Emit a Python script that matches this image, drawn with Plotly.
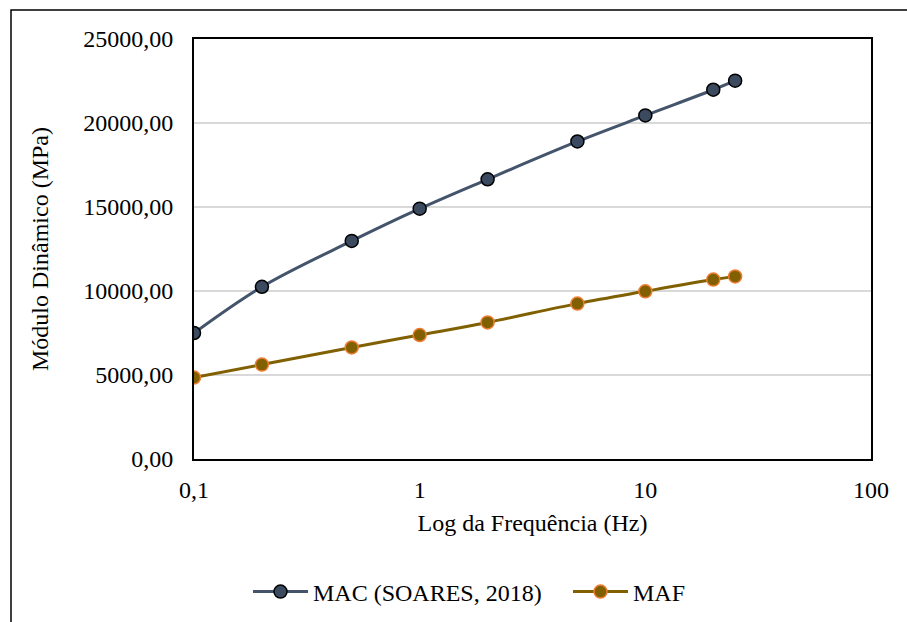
import plotly.graph_objects as go

# Frequências de ensaio (Hz)
freq = [0.1, 0.2, 0.5, 1, 2, 5, 10, 20, 25]
# Módulo dinâmico (MPa)
mac_soares = [7500, 10250, 12980, 14900, 16650, 18900, 20450, 21980, 22520]
maf = [4850, 5620, 6640, 7380, 8130, 9250, 9980, 10680, 10870]

y_ticks = [0, 5000, 10000, 15000, 20000, 25000]
y_tick_text = ["0,00", "5000,00", "10000,00", "15000,00", "20000,00", "25000,00"]
x_ticks = [0.1, 1, 10, 100]
x_tick_text = ["0,1", "1", "10", "100"]

FONT = "Liberation Serif"
FS = 24

fig = go.Figure()
fig.add_trace(go.Scatter(
    x=freq, y=mac_soares, name="MAC (SOARES, 2018)", legend="legend",
    mode="lines+markers", line=dict(color="#44546A", width=3, shape="spline"),
    marker=dict(size=13, color="#3B4A5F", line=dict(color="#000000", width=1.5)),
))
fig.add_trace(go.Scatter(
    x=freq, y=maf, name="MAF", legend="legend2",
    mode="lines+markers", line=dict(color="#806000", width=3, shape="spline"),
    marker=dict(size=13, color="#806000", line=dict(color="#ED7D31", width=1.5)),
))

L, R, T, B = 194, 36, 39, 163
W, H = 907, 622
pw, ph = W - L - R, H - T - B

legend_style = dict(orientation="h", yanchor="middle", xanchor="left",
                    itemwidth=55, font=dict(family=FONT, size=FS),
                    bgcolor="rgba(0,0,0,0)", y=(H - B - 592) / ph)

fig.update_layout(
    width=W, height=H,
    margin=dict(l=L, r=R, t=T, b=B, autoexpand=False),
    paper_bgcolor="white", plot_bgcolor="white",
    font=dict(family=FONT, size=FS, color="#000000"),
    showlegend=True,
    legend=dict(legend_style, x=(248 - L) / pw),
    legend2=dict(legend_style, x=(568 - L) / pw),
    xaxis=dict(type="log", range=[-1, 2], tickvals=x_ticks, ticktext=x_tick_text,
               tickfont=dict(family=FONT, size=FS),
               showgrid=False, showline=True, linecolor="#000000", linewidth=2, mirror=True,
               ticks="", ticklabelstandoff=8, zeroline=False,
               title=dict(text="Log da Frequência (Hz)", standoff=12, font=dict(family=FONT, size=FS))),
    yaxis=dict(range=[0, 25000], tickvals=y_ticks, ticktext=y_tick_text,
               tickfont=dict(family=FONT, size=FS),
               showgrid=True, gridcolor="#D9D9D9", gridwidth=1.5,
               showline=True, linecolor="#000000", linewidth=2, mirror=True,
               ticks="", ticklabelstandoff=14, zeroline=False,
               title=dict(text="Módulo Dinâmico (MPa)", standoff=28, font=dict(family=FONT, size=FS))),
)

# Borda externa da área do gráfico
fig.add_shape(type="rect", xref="paper", yref="paper", layer="above",
              x0=(11 - L) / pw, x1=(W + 20 - L) / pw,
              y0=(H - B - (H + 20)) / ph, y1=(H - B - 10) / ph,
              line=dict(color="#000000", width=1.5), fillcolor="rgba(0,0,0,0)")

fig.write_html("out.html")
